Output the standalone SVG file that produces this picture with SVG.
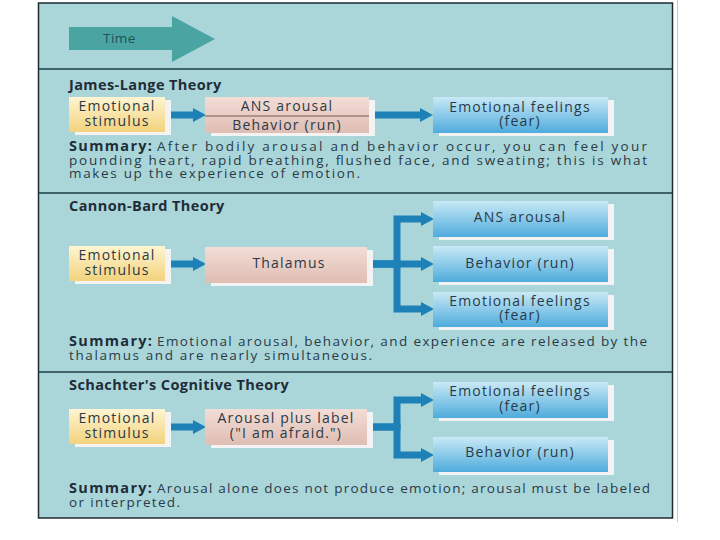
<svg xmlns="http://www.w3.org/2000/svg" width="720" height="540" viewBox="0 0 720 540">
<defs>
<linearGradient id="gY" x1="0" y1="0" x2="0" y2="1"><stop offset="0" stop-color="#fff5d2"/><stop offset="1" stop-color="#f2d27c"/></linearGradient>
<linearGradient id="gP" x1="0" y1="0" x2="0" y2="1"><stop offset="0" stop-color="#f2ddd6"/><stop offset="1" stop-color="#dfbdb3"/></linearGradient>
<linearGradient id="gB" x1="0" y1="0" x2="0" y2="1"><stop offset="0" stop-color="#c9e9f6"/><stop offset="1" stop-color="#4eabdc"/></linearGradient>
<marker id="ah" markerUnits="userSpaceOnUse" markerWidth="13" markerHeight="14" refX="2" refY="7" orient="auto"><path d="M0,0 L13,7 L0,14 z" fill="#1d80b6"/></marker>
<style>
.t{font-family:"Open Sans","Liberation Sans",sans-serif;fill:#2a3a47;font-size:14px;letter-spacing:1.2px}
.c{text-anchor:middle}
.h{font-weight:bold;font-size:14.5px;fill:#1f2d38;letter-spacing:0.4px}
.s{font-size:13.5px;letter-spacing:0}
.b{font-weight:bold;fill:#1f2d38;font-size:14.5px}
.sh{fill:#f3f3f3}
.ln{fill:none;stroke:#1d80b6;stroke-width:7;stroke-linejoin:miter;marker-end:url(#ah)}
.div{stroke:#1e3d47;stroke-width:1.5}
</style>
</defs>
<rect width="720" height="540" fill="#ffffff"/>
<line x1="677.5" y1="0" x2="677.5" y2="522" stroke="#c8c8c8" stroke-width="1"/>
<rect x="38.5" y="3" width="634" height="515" fill="#aad6da" stroke="#1e2a30" stroke-width="1.5"/>
<line class="div" x1="38.5" y1="69" x2="672.5" y2="69"/>
<line class="div" x1="38.5" y1="193" x2="672.5" y2="193"/>
<line class="div" x1="38.5" y1="372" x2="672.5" y2="372"/>

<g id="time">
<polygon points="69,27 172,27 172,16 215,39 172,62 172,50 69,50" fill="#4aa5a2"/>
<text class="t" x="103" y="43" style="font-size:13.5px;fill:#1c5257;letter-spacing:0.5px">Time</text>
</g>

<text class="t h" x="69" y="90">James-Lange Theory</text>
<text class="t h" x="69" y="211">Cannon-Bard Theory</text>
<text class="t h" x="69" y="390">Schachter's Cognitive Theory</text>

<g id="connectors">
<path class="ln" d="M165,115 H195"/>
<path class="ln" d="M369,115 H422"/>
<path class="ln" d="M165,264 H195"/>
<path class="ln" d="M367,264 H397 V219 H423"/>
<path class="ln" d="M367,264 H423"/>
<path class="ln" d="M367,264 H397 V309 H423"/>
<path class="ln" d="M165,427 H195"/>
<path class="ln" d="M367,427 H397 V400 H423"/>
<path class="ln" d="M367,427 H397 V455 H423"/>
</g>

<g id="jl-stimulus">
<rect class="sh" x="75" y="100" width="96" height="35"/>
<rect x="69" y="97" width="96" height="35" fill="url(#gY)"/>
<text class="t c" x="117" y="111">Emotional</text>
<text class="t c" x="117" y="126">stimulus</text>
</g>
<g id="jl-ans">
<rect class="sh" x="211" y="100" width="164" height="36"/>
<rect x="205" y="97" width="164" height="36" fill="url(#gP)"/>
<line x1="205" y1="116" x2="369" y2="116" stroke="#7a5a55" stroke-width="1"/>
<text class="t c" x="287" y="111">ANS arousal</text>
<text class="t c" x="287" y="130">Behavior (run)</text>
</g>
<g id="jl-feel">
<rect class="sh" x="439" y="100" width="175" height="36"/>
<rect x="433" y="97" width="175" height="36" fill="url(#gB)"/>
<text class="t c" x="520" y="112">Emotional feelings</text>
<text class="t c" x="520" y="126">(fear)</text>
</g>
<g id="jl-summary">
<text class="t s b" x="69" y="151" textLength="83" lengthAdjust="spacing">Summary:</text>
<text class="t s" x="157" y="151" textLength="490" lengthAdjust="spacing">After bodily arousal and behavior occur, you can feel your</text>
<text class="t s" x="69" y="164.5" textLength="578" lengthAdjust="spacing">pounding heart, rapid breathing, flushed face, and sweating; this is what</text>
<text class="t s" x="69" y="178" textLength="291" lengthAdjust="spacing">makes up the experience of emotion.</text>
</g>

<g id="cb-stimulus">
<rect class="sh" x="75" y="249" width="96" height="35"/>
<rect x="69" y="246" width="96" height="35" fill="url(#gY)"/>
<text class="t c" x="117" y="260">Emotional</text>
<text class="t c" x="117" y="275">stimulus</text>
</g>
<g id="cb-thalamus">
<rect class="sh" x="211" y="250" width="162" height="36"/>
<rect x="205" y="247" width="162" height="36" fill="url(#gP)"/>
<text class="t c" x="289" y="268">Thalamus</text>
</g>
<g id="cb-ans">
<rect class="sh" x="439" y="204" width="175" height="36"/>
<rect x="433" y="201" width="175" height="36" fill="url(#gB)"/>
<text class="t c" x="520" y="222">ANS arousal</text>
</g>
<g id="cb-behavior">
<rect class="sh" x="439" y="249" width="175" height="36"/>
<rect x="433" y="246" width="175" height="36" fill="url(#gB)"/>
<text class="t c" x="520" y="268">Behavior (run)</text>
</g>
<g id="cb-feel">
<rect class="sh" x="439" y="295" width="175" height="35"/>
<rect x="433" y="292" width="175" height="35" fill="url(#gB)"/>
<text class="t c" x="520" y="306">Emotional feelings</text>
<text class="t c" x="520" y="320">(fear)</text>
</g>
<g id="cb-summary">
<text class="t s b" x="69" y="346" textLength="83" lengthAdjust="spacing">Summary:</text>
<text class="t s" x="157" y="346" textLength="490" lengthAdjust="spacing">Emotional arousal, behavior, and experience are released by the</text>
<text class="t s" x="69" y="359.5" textLength="303" lengthAdjust="spacing">thalamus and are nearly simultaneous.</text>
</g>

<g id="sc-stimulus">
<rect class="sh" x="75" y="412" width="96" height="35"/>
<rect x="69" y="409" width="96" height="35" fill="url(#gY)"/>
<text class="t c" x="117" y="423">Emotional</text>
<text class="t c" x="117" y="438">stimulus</text>
</g>
<g id="sc-arousal">
<rect class="sh" x="211" y="412" width="162" height="36"/>
<rect x="205" y="409" width="162" height="36" fill="url(#gP)"/>
<text class="t c" x="286" y="423">Arousal plus label</text>
<text class="t c" x="286" y="438">("I am afraid.")</text>
</g>
<g id="sc-feel">
<rect class="sh" x="439" y="385" width="175" height="36"/>
<rect x="433" y="382" width="175" height="36" fill="url(#gB)"/>
<text class="t c" x="520" y="396">Emotional feelings</text>
<text class="t c" x="520" y="411">(fear)</text>
</g>
<g id="sc-behavior">
<rect class="sh" x="439" y="440" width="175" height="35"/>
<rect x="433" y="437" width="175" height="35" fill="url(#gB)"/>
<text class="t c" x="520" y="457">Behavior (run)</text>
</g>
<g id="sc-summary">
<text class="t s b" x="69" y="493" textLength="83" lengthAdjust="spacing">Summary:</text>
<text class="t s" x="157" y="493" textLength="493" lengthAdjust="spacing">Arousal alone does not produce emotion; arousal must be labeled</text>
<text class="t s" x="69" y="506.5" textLength="111" lengthAdjust="spacing">or interpreted.</text>
</g>
</svg>
